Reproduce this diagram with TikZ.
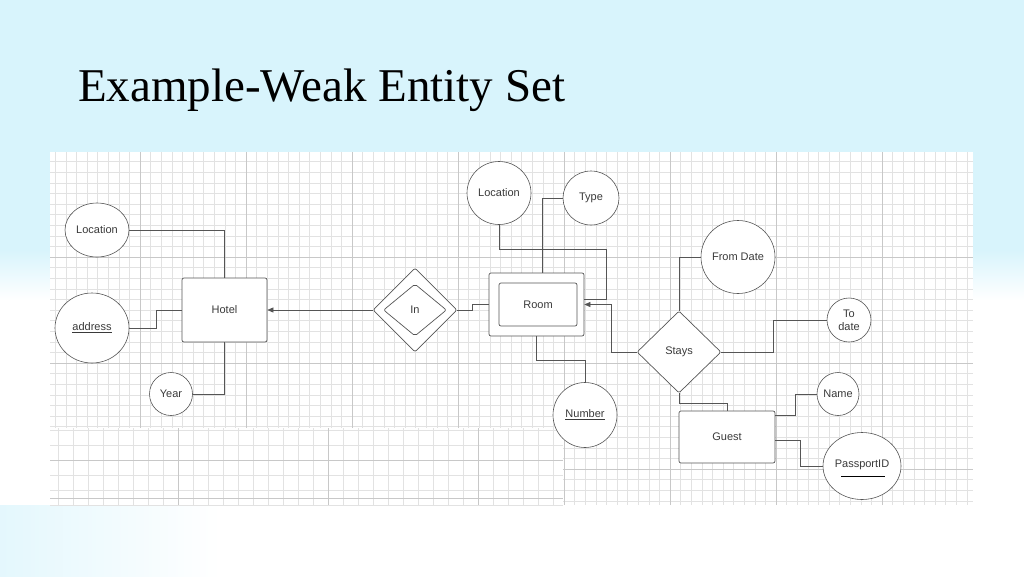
\documentclass[tikz,border=0pt]{standalone}
\usepackage{fontspec}
\setmainfont{Liberation Serif}
\newfontfamily\diafont{Liberation Sans}
\usetikzlibrary{shapes.geometric,arrows.meta,calc}
\definecolor{bgblue}{HTML}{D8F4FC}
\definecolor{txt}{HTML}{3A3A3A}
\definecolor{edge}{HTML}{555555}
\definecolor{gminor}{HTML}{E2E2E2}
\definecolor{gmajor}{HTML}{C8C8C8}
\begin{document}
\begin{tikzpicture}[x=1pt,y=-1pt,
  lbl/.style={font=\diafont\fontsize{11}{13}\selectfont, text=txt},
  attr/.style={draw=edge, ellipse, fill=white, line width=0.6pt, inner sep=0pt, lbl},
  ent/.style={draw=edge, rectangle, rounded corners=2pt, fill=white, line width=0.7pt, inner sep=0pt, lbl},
  rel/.style={draw=edge, diamond, fill=white, line width=0.7pt, inner sep=0pt, rounded corners=2pt, lbl},
  conn/.style={draw=edge, line width=0.6pt},
  arr/.style={conn, -{Triangle[length=6pt,width=5pt]}},
  minorl/.style={draw=gminor, line width=0.5pt},
  majorl/.style={draw=gmajor, line width=0.7pt}]
\useasboundingbox (0,0) rectangle (1024,576);
% background
\fill[bgblue] (0,0) rectangle (1024,250);
\shade[top color=bgblue, bottom color=white] (0,250) rectangle (1024,300);
\fill[white] (0,300) rectangle (1024,576);
\shade[left color=bgblue!70, right color=white] (0,505) rectangle (220,576);
% title
\node[anchor=base west, inner sep=0pt, font=\fontsize{47}{51}\selectfont, text=black] (title) at (78,101) {Example-Weak Entity Set};
% main grid
\fill[white] (50,152) rectangle (973,505);
\begin{scope}
\clip (50,152) rectangle (973,505);
\foreach \i in {0,...,89} {\draw[minorl] ({34+\i*10.6},152) -- ({34+\i*10.6},505);}
\foreach \j in {0,...,34} {\draw[minorl] (50,{151+\j*10.6}) -- (973,{151+\j*10.6});}
\foreach \i in {1,...,8} {\draw[majorl] ({34+\i*106},152) -- ({34+\i*106},505);}
\foreach \j in {1,...,3} {\draw[majorl] (50,{151+\j*106}) -- (973,{151+\j*106});}
\end{scope}
% pasted lower-left grid
\fill[white] (50,428) rectangle (563,505);
\begin{scope}
\clip (50,428) rectangle (563,505);
\foreach \i in {0,...,34} {\draw[minorl] ({43+\i*15},428) -- ({43+\i*15},505);}
\foreach \j in {0,...,6} {\draw[minorl] (50,{430+\j*15}) -- (563,{430+\j*15});}
\foreach \i in {0,...,3} {\draw[majorl] ({178+\i*150},428) -- ({178+\i*150},505);}
\draw[majorl] (50,460) -- (563,460);
\draw[majorl] (50,498) -- (563,498);
\end{scope}
% nodes
\node[ent, minimum width=85pt, minimum height=64pt] (hotel) at (224.5,310) {Hotel};
\node[attr, minimum width=64pt, minimum height=54pt] (loc1) at (97,230) {Location};
\node[attr, minimum width=74pt, minimum height=70pt] (addr) at (92,328) {\underline{address}};
\node[attr, minimum width=43pt, minimum height=43pt] (year) at (171,394) {Year};
\node[rel, minimum width=84pt, minimum height=84pt] (inO) at (415,310) {};
\node[rel, minimum width=63pt, minimum height=52pt] (inI) at (415,310) {In};
\node[ent, minimum width=95pt, minimum height=63pt] (roomO) at (536.5,304.5) {};
\node[ent, minimum width=78pt, minimum height=43pt] (roomI) at (538,304.5) {Room};
\node[attr, minimum width=64pt, minimum height=63pt] (loc2) at (499,193) {Location};
\node[attr, minimum width=56pt, minimum height=54pt] (type) at (591,198) {Type};
\node[attr, minimum width=64pt, minimum height=65pt] (num) at (585,415) {\underline{Number}};
\node[rel, minimum width=84pt, minimum height=82pt] (stays) at (679,352) {Stays};
\node[attr, minimum width=74pt, minimum height=73pt] (from) at (738,257) {From Date};
\node[attr, minimum width=44pt, minimum height=44pt, align=center, font=\diafont\fontsize{11}{13}\selectfont] (todate) at (849,320) {To\\date};
\node[ent, minimum width=96pt, minimum height=52pt] (guest) at (727,437) {Guest};
\node[attr, minimum width=42pt, minimum height=43pt] (name) at (838,394) {Name};
\node[attr, minimum width=78pt, minimum height=67pt, text depth=4pt] (pass) at (862,466) {PassportID};
\draw[draw=black, line width=0.7pt] ($(pass.center)+(-21,10)$) -- ($(pass.center)+(23,10)$);
% connectors
\draw[conn] (loc1.east) -| (hotel.north);
\draw[conn] (addr.east) -- (156,328) |- (hotel.west);
\draw[conn] (year.east) -| (hotel.south);
\draw[arr] (inO.west) -- (hotel.east);
\draw[conn] (inO.east) -- (472,310) |- (roomO.west);
\draw[conn] (loc2.south) |- (542,249) -- ($(roomO.north)+(5.5,0)$);
\draw[conn] (type.west) -| (542,249) -- (606,249) |- ($(roomO.east)+(0,-5.5)$);
\draw[arr] (stays.west) -- (611,352) |- (roomO.east);
\draw[conn] (roomO.south) -- (536.5,360) -| (num.north);
\draw[conn] (stays.north) |- (from.west);
\draw[conn] (stays.east) -- (773,352) |- (todate.west);
\draw[conn] (stays.south) -- (679,403) -| (guest.north);
\draw[conn] ($(guest.east)+(0,-22)$) -- (795,415) |- (name.west);
\draw[conn] ($(guest.east)+(0,3)$) -- (800,440) |- (pass.west);
\end{tikzpicture}
\end{document}
